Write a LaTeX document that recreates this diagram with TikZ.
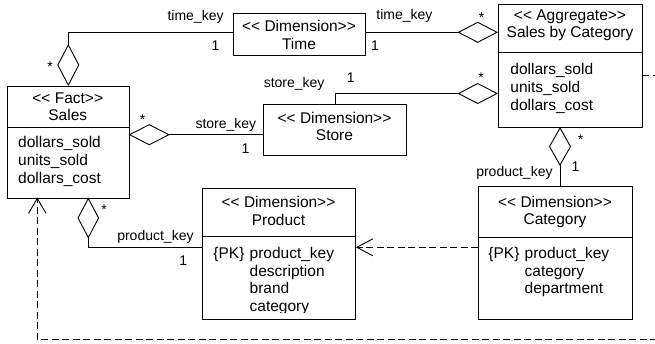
\documentclass[tikz,border=0pt]{standalone}
\usepackage{fontspec}
\setmainfont{Liberation Sans}
\usetikzlibrary{arrows.meta}
\newcommand\LLt{<\kern0pt<}
\newcommand\GGt{>\kern0pt>}
\begin{document}
\begin{tikzpicture}[x=1pt,y=-1pt,line width=0.9pt,line join=miter,
  box/.style={draw,rectangle,inner sep=0pt,anchor=north west},
  txt/.style={inner sep=0pt,font=\fontsize{15.5}{18}\selectfont},
  lbl/.style={inner sep=0pt,font=\fontsize{14}{16}\selectfont},
  dep/.style={dash pattern=on 7pt off 3.5pt,-{Straight Barb[length=16pt,width=17pt]}}]
\useasboundingbox (0,0) rectangle (655,343);
\clip (0,0) rectangle (655,343);

% boxes
\node[box,minimum width=132pt,minimum height=42pt] (time) at (233,13) {};
\node[box,minimum width=144pt,minimum height=123pt] (agg) at (498,4) {};
\node[box,minimum width=121.5pt,minimum height=111.5pt] (sales) at (7,86) {};
\node[box,minimum width=143pt,minimum height=51pt] (store) at (263,104) {};
\node[box,minimum width=153pt,minimum height=131pt] (product) at (202,188) {};
\node[box,minimum width=154pt,minimum height=133pt] (category) at (478,186) {};

% dividers
\draw ([yshift=-48.3pt]agg.north west) -- ([yshift=-48.3pt]agg.north east);
\draw ([yshift=-41.3pt]sales.north west) -- ([yshift=-41.3pt]sales.north east);
\draw ([yshift=-48.7pt]product.north west) -- ([yshift=-48.7pt]product.north east);
\draw ([yshift=-51pt]category.north west) -- ([yshift=-51pt]category.north east);

% headers
\node[txt,anchor=base] (timeH1) at (299,31.7) {\LLt{} Dimension\GGt};
\node[txt,anchor=base] (timeH2) at (299,49) {Time};
\node[txt,anchor=base] (aggH1) at (570,20) {\LLt{} Aggregate\GGt};
\node[txt,anchor=base] (aggH2) at (570,37.5) {Sales by Category};
\node[txt,anchor=base] (salesH1) at (67.75,103.3) {\LLt{} Fact\GGt};
\node[txt,anchor=base] (salesH2) at (67.75,120.7) {Sales};
\node[txt,anchor=base] (storeH1) at (334.5,123.3) {\LLt{} Dimension\GGt};
\node[txt,anchor=base] (storeH2) at (334.5,140.5) {Store};
\node[txt,anchor=base] (prodH1) at (278.5,207) {\LLt{} Dimension\GGt};
\node[txt,anchor=base] (prodH2) at (278.5,225) {Product};
\node[txt,anchor=base] (catH1) at (555,207) {\LLt{} Dimension\GGt};
\node[txt,anchor=base] (catH2) at (555,224) {Category};

% contents
\node[txt,anchor=base west] (sales1) at (17.7,147.3) {dollars\_sold};
\node[txt,anchor=base west] (sales2) at (17.7,165.6) {units\_sold};
\node[txt,anchor=base west] (sales3) at (17.7,183.9) {dollars\_cost};
\node[txt,anchor=base west] (agg1) at (510,74) {dollars\_sold};
\node[txt,anchor=base west] (agg2) at (510,92) {units\_sold};
\node[txt,anchor=base west] (agg3) at (510,110) {dollars\_cost};
\begin{scope}
\clip (202,237) rectangle (355,312.6);
\node[txt,anchor=base west] (prod1a) at (213,258.5) {\{PK\}};
\node[txt,anchor=base west] (prod1b) at ([xshift=4.3pt]prod1a.base east) {product\_key};
\node[txt,anchor=base west] (prod2) at ([yshift=-17.7pt]prod1b.base west) {description};
\node[txt,anchor=base west] (prod3) at ([yshift=-17.7pt]prod2.base west) {brand};
\node[txt,anchor=base west] (prod4) at ([yshift=-17.7pt]prod3.base west) {category};
\end{scope}
\node[txt,anchor=base west] (cat1a) at (488,258.5) {\{PK\}};
\node[txt,anchor=base west] (cat1b) at ([xshift=4.3pt]cat1a.base east) {product\_key};
\node[txt,anchor=base west] (cat2) at ([yshift=-17.7pt]cat1b.base west) {category};
\node[txt,anchor=base west] (cat3) at ([yshift=-17.7pt]cat2.base west) {department};

% connector end points
\coordinate (aggT) at (498,32.3);
\coordinate (aggS) at (498,93.5);
\coordinate (salesT) at (68.3,86);
\coordinate (salesR) at (128.5,134.7);
\coordinate (aggB) at (560,127);
\coordinate (salesB) at (88.3,197.5);
\coordinate (prodL) at (202,247.3);
\coordinate (catL) at (478,247.3);
\coordinate (aggR) at (642,75);
\coordinate (far) at (680,339.5);
\coordinate (salesBL) at (37.3,197.5);

% aggregations
\draw[-{Diamond[open,length=40.5pt,width=21pt]}] (time.east |- aggT) -- (aggT);
\draw[-{Diamond[open,length=42pt,width=22pt]}] (time.west |- aggT) -| (salesT);
\draw[-{Diamond[open,length=40.5pt,width=21pt]}] (store.north) |- (aggS);
\draw[-{Diamond[open,length=41.5pt,width=21pt]}] (store.west |- salesR) -- (salesR);
\draw[-{Diamond[open,length=39pt,width=22pt]}] (category.north -| aggB) -- (aggB);
\draw[-{Diamond[open,length=41pt,width=21.6pt]}] (prodL) -| (salesB);

% dependencies
\draw[dep] (catL) -- (product.east |- catL);
\draw[dash pattern=on 7pt off 3.5pt,-{Straight Barb[length=15pt,width=17.5pt]}]
  (aggR) -- (aggR -| far) -- (far) -- (salesBL |- far) -- (salesBL);

% labels
\node[lbl,anchor=base east] (l1) at (224,20) {time\_key};
\node[lbl,anchor=base] (l2) at (215.5,50.7) {1};
\node[lbl,anchor=base] (l3) at (50,71) {*};
\node[lbl,anchor=base west] (l4) at (376,19.5) {time\_key};
\node[lbl,anchor=base] (l5) at (375,50) {1};
\node[lbl,anchor=base] (l6) at (481.5,22) {*};
\node[lbl,anchor=base west] (l7) at (263.3,87.5) {store\_key};
\node[lbl,anchor=base] (l8) at (350.8,82) {1};
\node[lbl,anchor=base] (l9) at (481,82.5) {*};
\node[lbl,anchor=base] (l10) at (142.5,124) {*};
\node[lbl,anchor=base east] (l11) at (256.7,128.5) {store\_key};
\node[lbl,anchor=base] (l12) at (245.5,153.3) {1};
\node[lbl,anchor=base] (l13) at (580.5,144) {*};
\node[lbl,anchor=base] (l14) at (575.5,171) {1};
\node[lbl,anchor=base east] (l15) at (553,176) {product\_key};
\node[lbl,anchor=base] (l16) at (104,214) {*};
\node[lbl,anchor=base east] (l17) at (194,240.5) {product\_key};
\node[lbl,anchor=base] (l18) at (183.3,265) {1};
\end{tikzpicture}
\end{document}
